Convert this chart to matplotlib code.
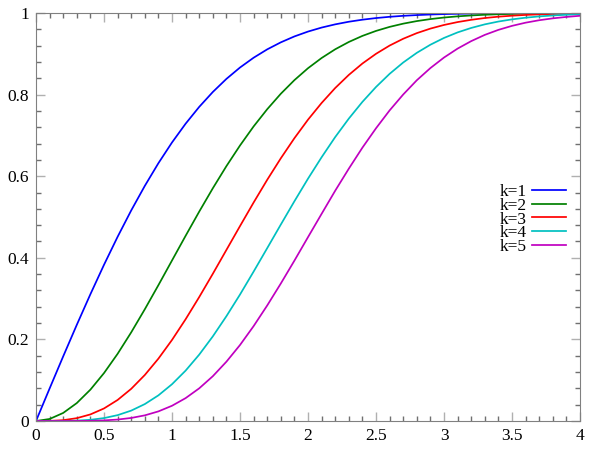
import matplotlib.pyplot as plt
from matplotlib.ticker import MultipleLocator

plt.rcParams['font.family'] = ['Liberation Serif', 'DejaVu Serif']

x = [0.0, 0.1, 0.2, 0.3, 0.4, 0.5, 0.6, 0.7, 0.8, 0.9,
     1.0, 1.1, 1.2, 1.3, 1.4, 1.5, 1.6, 1.7, 1.8, 1.9,
     2.0, 2.1, 2.2, 2.3, 2.4, 2.5, 2.6, 2.7, 2.8, 2.9,
     3.0, 3.1, 3.2, 3.3, 3.4, 3.5, 3.6, 3.7, 3.8, 3.9, 4.0]

k1 = [0.0, 0.0797, 0.1585, 0.2358, 0.3108, 0.3829, 0.4515, 0.5161, 0.5763, 0.6319,
      0.6827, 0.7287, 0.7699, 0.8064, 0.8385, 0.8664, 0.8904, 0.9109, 0.9281, 0.9426,
      0.9545, 0.9643, 0.9722, 0.9786, 0.9836, 0.9876, 0.9907, 0.9931, 0.9949, 0.9963,
      0.9973, 0.9981, 0.9986, 0.9990, 0.9993, 0.9995, 0.9997, 0.9998, 0.9999, 0.9999, 0.9999]
k2 = [0.0, 0.0050, 0.0198, 0.0440, 0.0769, 0.1175, 0.1647, 0.2173, 0.2739, 0.3330,
      0.3935, 0.4539, 0.5132, 0.5704, 0.6247, 0.6753, 0.7220, 0.7642, 0.8021, 0.8355,
      0.8647, 0.8897, 0.9111, 0.9290, 0.9439, 0.9561, 0.9660, 0.9739, 0.9802, 0.9851,
      0.9889, 0.9918, 0.9940, 0.9957, 0.9969, 0.9978, 0.9985, 0.9989, 0.9993, 0.9995, 0.9997]
k3 = [0.0, 0.0003, 0.0021, 0.0070, 0.0162, 0.0308, 0.0516, 0.0789, 0.1128, 0.1529,
      0.1987, 0.2494, 0.3038, 0.3608, 0.4193, 0.4778, 0.5355, 0.5912, 0.6439, 0.6932,
      0.7386, 0.7795, 0.8162, 0.8483, 0.8762, 0.9000, 0.9202, 0.9369, 0.9507, 0.9618,
      0.9707, 0.9778, 0.9833, 0.9877, 0.9910, 0.9934, 0.9953, 0.9966, 0.9976, 0.9983, 0.9989]
k4 = [0.0, 0.0000, 0.0002, 0.0010, 0.0030, 0.0072, 0.0144, 0.0255, 0.0415, 0.0629,
      0.0902, 0.1235, 0.1627, 0.2074, 0.2569, 0.3100, 0.3662, 0.4237, 0.4815, 0.5386,
      0.5940, 0.6465, 0.6960, 0.7412, 0.7822, 0.8187, 0.8509, 0.8787, 0.9024, 0.9223,
      0.9389, 0.9525, 0.9634, 0.9722, 0.9791, 0.9844, 0.9885, 0.9917, 0.9940, 0.9957, 0.9970]
k5 = [0.0, 0.0000, 0.0000, 0.0001, 0.0005, 0.0015, 0.0036, 0.0075, 0.0139, 0.0236,
      0.0374, 0.0561, 0.0801, 0.1098, 0.1454, 0.1863, 0.2326, 0.2832, 0.3370, 0.3931,
      0.4507, 0.5078, 0.5645, 0.6185, 0.6700, 0.7175, 0.7613, 0.8003, 0.8352, 0.8651,
      0.8909, 0.9128, 0.9311, 0.9464, 0.9587, 0.9685, 0.9763, 0.9823, 0.9869, 0.9904, 0.9932]

series = [k1, k2, k3, k4, k5]
labels = ['k=1', 'k=2', 'k=3', 'k=4', 'k=5']
colors = ['#0000ff', '#008000', '#ff0000', '#00c0c0', '#c000c0']

fig = plt.figure(figsize=(6, 4.5), dpi=100)
ax = fig.add_axes([0.06, 0.0644, 0.9067, 0.9067])

for ys, lab, c in zip(series, labels, colors):
    ax.plot(x, ys, color=c, lw=1.25, label=lab)

ax.set_xlim(0, 4)
ax.set_ylim(0, 1)
ax.xaxis.set_major_locator(MultipleLocator(0.5))
ax.xaxis.set_minor_locator(MultipleLocator(0.1))
ax.yaxis.set_major_locator(MultipleLocator(0.2))
ax.yaxis.set_minor_locator(MultipleLocator(0.04))
ax.xaxis.set_major_formatter(plt.FuncFormatter(lambda v, p: f'{v:g}'))
ax.yaxis.set_major_formatter(plt.FuncFormatter(lambda v, p: f'{v:g}'))

ax.tick_params(which='both', direction='in', top=True, right=True, labelsize=12.5)
ax.tick_params(which='major', length=6.5, width=1, color='#b0b0b0', pad=5)
ax.tick_params(which='minor', length=3.5, width=1, color='#707070')
for s in ax.spines.values():
    s.set_color('#808080')

# legend sits right of centre, text before the line sample
ax.legend(loc='center right', bbox_to_anchor=(0.99, 0.494), frameon=False,
          markerfirst=False, fontsize=12.5, borderpad=0, handlelength=1.95,
          handletextpad=0.3, labelspacing=-0.14)

plt.savefig('out.png', dpi=100)
